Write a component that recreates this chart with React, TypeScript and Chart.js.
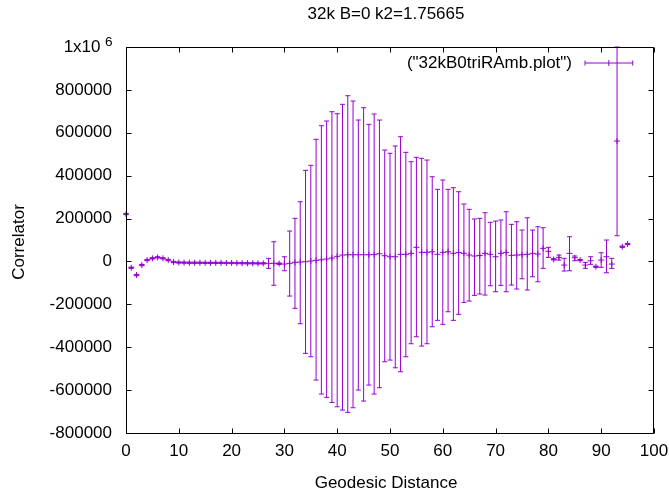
import React, { useEffect, useRef } from 'react';
import { Chart, registerables } from 'chart.js';

Chart.register(...registerables);

const TITLE = '32k B=0 k2=1.75665';
const X_LABEL = 'Geodesic Distance';
const Y_LABEL = 'Correlator';
const LEGEND_LABEL = '("32kB0triRAmb.plot")';

const distances = [
  0, 1, 2, 3, 4, 5, 6, 7, 8, 9,
  10, 11, 12, 13, 14, 15, 16, 17, 18, 19,
  20, 21, 22, 23, 24, 25, 26, 27, 28, 29,
  30, 31, 32, 33, 34, 35, 36, 37, 38, 39,
  40, 41, 42, 43, 44, 45, 46, 47, 48, 49,
  50, 51, 52, 53, 54, 55, 56, 57, 58, 59,
  60, 61, 62, 63, 64, 65, 66, 67, 68, 69,
  70, 71, 72, 73, 74, 75, 76, 77, 78, 79,
  80, 81, 82, 83, 84, 85, 86, 87, 88, 89,
  90, 91, 92, 93, 94, 95,
];

const correlator = [
  221000, -29400, -63400, -16800, 6500, 14500, 19100, 14500, 6500, -2800,
  -5000, -5500, -6000, -6000, -6000, -6500, -6500, -6500, -6500, -7000,
  -7000, -7500, -8000, -8500, -8500, -9000, -9000, -8900, -8900, -10300,
  -12100, -8900, -4200, -2800, -1400, 1900, 5100, 7900, 11200, 15900,
  23800, 29800, 31200, 31200, 31200, 31200, 31200, 32000, 35900, 26600,
  21900, 21900, 33100, 33100, 37800, 65800, 42400, 42400, 45200, 33100,
  42400, 45200, 37800, 41500, 37800, 29800, 25200, 27500, 37800, 33100,
  21900, 37800, 42400, 28500, 29800, 31200, 33100, 37800, 34500, 61100,
  47100, 9800, 19100, -16800, 37800, 17300, 6500, -16800, 3300, -24700,
  6500, 21900, -12100, 561500, 68600, 81200,
];

const errHigh = [
  224000, -26400, -60400, -13800, 9500, 17500, 22100, 17500, 9500, 200,
  -2000, -2500, -3000, -3000, -3000, -3500, -3500, -3500, -3500, -4000,
  -4000, -4500, -5000, -5500, -5500, -6000, -6000, 14500, 91900, -7000,
  21900, 141800, 201000, 278400, 424900, 448200, 569500, 632900, 654800, 698200,
  688900, 732700, 772800, 748100, 659500, 716900, 639400, 687500, 659500, 519600,
  504200, 538200, 581600, 508800, 465000, 485500, 480900, 472900, 395000, 336300,
  379700, 336300, 343700, 325100, 267700, 243000, 197800, 201000, 227100, 182400,
  188400, 193100, 231800, 173000, 185200, 146400, 203800, 146400, 161800, 157200,
  65800, 12800, 29800, 14500, 115200, 25200, 9500, -4200, 21900, -21700,
  40600, 99800, 14500, 1000000, 71600, 84200,
];

const errLow = [
  218000, -32400, -66400, -19800, 3500, 11500, 16100, 11500, 3500, -5800,
  -8000, -8500, -9000, -9000, -9000, -9500, -9500, -9500, -9500, -10000,
  -10000, -10500, -11000, -11500, -11500, -12000, -12000, -32200, -111000, -14000,
  -43400, -161400, -218700, -290600, -428600, -444500, -553100, -618400, -633800, -657200,
  -677700, -693100, -703800, -682300, -599800, -651100, -576500, -618400, -589000, -467800,
  -459900, -495800, -514400, -444500, -383800, -351200, -394600, -383800, -304600, -274700,
  -293400, -234600, -274700, -246700, -190800, -184700, -158100, -152000, -156700, -113300,
  -141300, -111500, -141300, -110100, -128700, -80700, -133400, -71400, -94700, -32200,
  19100, 6800, 6500, -44800, -43400, 3300, 3500, -32200, -13500, -27700,
  -27500, -52700, -32200, 119900, 65600, 78200,
];

const xTicks = [0, 10, 20, 30, 40, 50, 60, 70, 80, 90, 100];
const yTicks = [-800000, -600000, -400000, -200000, 0, 200000, 400000, 600000, 800000, 1000000];

const FONT = "'Liberation Sans', Arial, Helvetica, sans-serif";
const PURPLE = '#9400d3';
const INK = '#000000';

const overlay = {
  id: 'gnuplotOverlay',
  afterDatasetsDraw(chart: any) {
    const { ctx, scales } = chart;
    const xs = scales.x;
    const ys = scales.y;
    ctx.save();
    ctx.strokeStyle = PURPLE;
    ctx.lineWidth = 1;
    ctx.beginPath();
    distances.forEach((d, i) => {
      const px = xs.getPixelForValue(d);
      const top = ys.getPixelForValue(errHigh[i]);
      const bot = ys.getPixelForValue(errLow[i]);
      ctx.moveTo(px, top);
      ctx.lineTo(px, bot);
      ctx.moveTo(px - 2.5, top);
      ctx.lineTo(px + 2.5, top);
      ctx.moveTo(px - 2.5, bot);
      ctx.lineTo(px + 2.5, bot);
    });
    ctx.stroke();
    ctx.restore();
  },
  afterDraw(chart: any) {
    const { ctx, chartArea: a, scales } = chart;
    const xs = scales.x;
    const ys = scales.y;
    ctx.save();
    ctx.strokeStyle = INK;
    ctx.lineWidth = 1;
    const L = a.left + 0.5;
    const R = a.right - 0.5;
    const T = a.top + 0.5;
    const B = a.bottom + 0.5;
    ctx.beginPath();
    ctx.moveTo(L, T);
    ctx.lineTo(R, T);
    ctx.lineTo(R, B);
    ctx.lineTo(L, B);
    ctx.closePath();
    ctx.stroke();
    ctx.beginPath();
    xTicks.forEach((v) => {
      const px = Math.round(xs.getPixelForValue(v)) + 0.5;
      ctx.moveTo(px, B);
      ctx.lineTo(px, B - 5);
      ctx.moveTo(px, T);
      ctx.lineTo(px, T + 5);
    });
    yTicks.forEach((v) => {
      const py = Math.round(ys.getPixelForValue(v)) + 0.5;
      ctx.moveTo(L, py);
      ctx.lineTo(L + 5, py);
      ctx.moveTo(R, py);
      ctx.lineTo(R - 5, py);
    });
    ctx.stroke();

    ctx.fillStyle = INK;
    ctx.font = `17px ${FONT}`;
    ctx.textBaseline = 'alphabetic';
    ctx.textAlign = 'center';
    ctx.fillText(TITLE, 386, 19);
    ctx.fillText(X_LABEL, 386, 488);

    ctx.save();
    ctx.translate(24, 242);
    ctx.rotate(-Math.PI / 2);
    ctx.textAlign = 'center';
    ctx.fillText(Y_LABEL, 0, 0);
    ctx.restore();

    ctx.textAlign = 'right';
    ctx.fillText('1x10', 100.5, 52);
    ctx.font = `13.6px ${FONT}`;
    ctx.textAlign = 'left';
    ctx.fillText('6', 105, 45.5);

    ctx.font = `17px ${FONT}`;
    ctx.textAlign = 'right';
    ctx.fillText(LEGEND_LABEL, 572, 67.5);
    ctx.strokeStyle = PURPLE;
    ctx.beginPath();
    const ly = 63;
    const lx1 = 585;
    const lx2 = 632.7;
    const lmid = (lx1 + lx2) / 2;
    ctx.moveTo(lx1, ly);
    ctx.lineTo(lx2, ly);
    ctx.moveTo(lx1, ly - 2.5);
    ctx.lineTo(lx1, ly + 2.5);
    ctx.moveTo(lx2, ly - 2.5);
    ctx.lineTo(lx2, ly + 2.5);
    ctx.moveTo(lmid, ly - 3);
    ctx.lineTo(lmid, ly + 3);
    ctx.stroke();
    ctx.restore();
  },
};

export default function App() {
  const canvasRef = useRef<HTMLCanvasElement | null>(null);

  useEffect(() => {
    document.body.style.margin = '0';
    const canvas = canvasRef.current;
    if (!canvas) return;
    const points = distances.map((d, i) => ({ x: d, y: correlator[i] }));
    const chart = new Chart(canvas, {
      type: 'scatter',
      data: {
        datasets: [
          {
            label: LEGEND_LABEL,
            data: points,
            showLine: false,
            pointStyle: 'cross',
            pointRadius: 3,
            pointBorderWidth: 1,
            pointBorderColor: PURPLE,
            pointBackgroundColor: PURPLE,
            borderColor: PURPLE,
            clip: false,
          } as any,
        ],
      },
      options: {
        animation: false,
        responsive: false,
        devicePixelRatio: 1,
        layout: { padding: { left: 0, top: 47, right: 15, bottom: 0 } },
        plugins: {
          legend: { display: false },
          tooltip: { enabled: false },
          title: { display: false },
        },
        scales: {
          x: {
            type: 'linear',
            min: 0,
            max: 100,
            grid: { display: false, drawTicks: false },
            border: { display: false },
            afterFit: (scale: any) => {
              scale.height = 56;
              scale.paddingLeft = 0;
              scale.paddingRight = 0;
            },
            afterBuildTicks: (scale: any) => {
              scale.ticks = xTicks.map((v) => ({ value: v }));
            },
            ticks: {
              autoSkip: false,
              maxRotation: 0,
              padding: 8,
              color: INK,
              font: { family: FONT, size: 17 },
              callback: (v: any) => `${v}`,
            },
          },
          y: {
            type: 'linear',
            min: -800000,
            max: 1000000,
            grid: { display: false, drawTicks: false },
            border: { display: false },
            afterFit: (scale: any) => {
              scale.width = 126;
              scale.paddingTop = 0;
              scale.paddingBottom = 0;
            },
            afterBuildTicks: (scale: any) => {
              scale.ticks = yTicks.map((v) => ({ value: v }));
            },
            ticks: {
              autoSkip: false,
              padding: 14,
              color: INK,
              font: { family: FONT, size: 17 },
              callback: (v: any) => (v === 1000000 ? '' : `${v}`),
            },
          },
        },
      },
      plugins: [overlay],
    });
    return () => chart.destroy();
  }, []);

  return (
    <div style={{ width: 669, height: 489, background: '#ffffff' }}>
      <canvas ref={canvasRef} width={669} height={489} style={{ display: 'block' }} />
    </div>
  );
}
